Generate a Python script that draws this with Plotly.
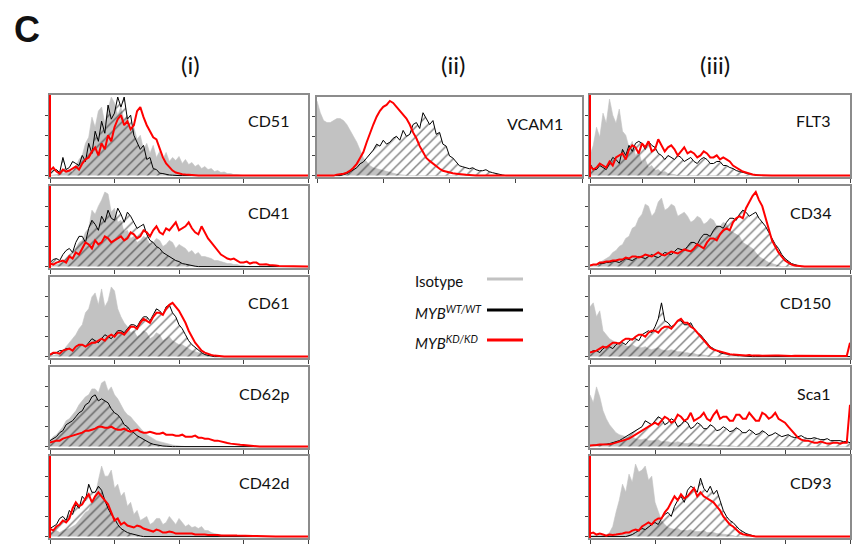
import plotly.graph_objects as go

# ---------------- data (log-decade bins 0..4, step 0.05) ----------------
BINS = [round(i * 0.05, 2) for i in range(81)]
DECADE_TICKS = [0, 1, 2, 3, 4]
FLT3_TICKS = [0, 0.8, 1.6, 2.4, 3.2, 4.0]
COUNT_TICKS = [0, 1, 2, 3]

CD51_ISO = [0, 0.02, 0.05, 0.1, 0.1, 0.2, 0.25, 0.15, 0.45, 0.8, 1.0, 1.6, 1.9, 2.9, 2.4, 3.2, 3.4, 2.6, 3.3, 3.9,
            3.6, 3.0, 3.4, 2.7, 3.0, 2.2, 2.4, 1.8, 2.0, 1.3, 1.6, 1.1, 1.5, 0.9, 1.2, 0.8, 1.15, 0.7, 0.9, 0.75,
            0.95, 0.6, 0.8, 0.55, 0.65, 0.45, 0.55, 0.35, 0.45, 0.3, 0.35, 0.2, 0.25, 0.15, 0.18, 0.1, 0.1, 0.05,
            0.05, 0.02]
CD51_WT = [0.1, 0.25, 0.3, 0.15, 0.9, 0.3, 0.4, 0.7, 0.6, 0.5, 1.0, 0.7, 1.6, 1.1, 2.2, 1.7, 2.7, 2.1, 3.5, 2.8,
           3.1, 3.9, 3.4, 3.9, 2.8, 3.0, 2.0, 1.6, 1.3, 1.5, 0.8, 0.9, 0.35, 0.3, 0.12, 0.1, 0.05, 0.03, 0.02]
CD51_KD = [0.25, 0.4, 0.2, 0.1, 0.3, 0.2, 0.25, 0.35, 0.45, 0.3, 0.6, 0.8, 0.9, 1.2, 1.4, 1.0, 1.6, 1.3, 2.0, 1.7,
           2.4, 2.8, 3.0, 2.5, 2.7, 2.3, 2.5, 3.2, 3.4, 2.9, 2.5, 2.2, 1.9, 1.8, 1.3, 0.9, 0.6, 0.4, 0.25, 0.15,
           0.1, 0.07, 0.05, 0.03, 0.02]

CD41_ISO = [0, 0.05, 0.1, 0.15, 0.2, 0.4, 0.6, 0.5, 0.9, 1.2, 1.3, 1.7, 1.9, 2.8, 2.6, 3.0, 3.3, 3.7, 3.6, 2.7,
            2.9, 2.2, 2.3, 1.7, 1.8, 1.4, 1.5, 1.2, 1.3, 1.5, 1.4, 1.1, 1.2, 1.4, 1.3, 1.0, 1.1, 1.3, 1.2, 0.9,
            1.1, 1.0, 0.9, 0.7, 0.8, 0.6, 0.7, 0.5, 0.5, 0.45, 0.4, 0.3, 0.3, 0.25, 0.2, 0.15, 0.15, 0.1, 0.1,
            0.05, 0.05]
CD41_WT = [0.2, 0.35, 0.4, 0.3, 0.6, 0.8, 0.9, 0.7, 1.2, 1.5, 1.5, 1.2, 1.9, 2.3, 2.1, 1.8, 2.5, 2.2, 2.8, 2.4,
           2.3, 2.9, 2.6, 2.2, 2.7, 2.5, 2.2, 1.9, 2.0, 2.1, 1.6, 1.3, 1.2, 1.0, 0.9, 0.7, 0.6, 0.5, 0.4, 0.3,
           0.25, 0.15, 0.12, 0.08, 0.05, 0.02]
CD41_KD = [0.15, 0.1, 0.2, 0.25, 0.3, 0.2, 0.5, 0.4, 0.7, 0.6, 0.9, 1.2, 1.1, 0.9, 1.3, 1.1, 1.2, 1.5, 1.4, 1.2,
           1.3, 1.4, 1.5, 1.3, 1.4, 1.7, 1.6, 1.4, 1.5, 1.8, 1.7, 1.5, 1.8, 2.0, 1.7, 1.6, 1.9, 1.8, 2.0, 2.2,
           1.8, 1.9, 2.0, 2.2, 1.9, 1.7, 1.6, 2.0, 1.7, 1.4, 1.2, 1.0, 0.8, 0.6, 0.5, 0.4, 0.35, 0.4, 0.3, 0.2,
           0.2, 0.25, 0.15, 0.2, 0.2, 0.1, 0.1, 0.12, 0.08, 0.05, 0.05, 0.03, 0.03]

CD61_ISO = [0, 0.05, 0.1, 0.2, 0.3, 0.5, 0.7, 0.9, 1.1, 1.4, 1.6, 2.2, 2.4, 3.0, 3.2, 2.6, 3.4, 2.5, 2.8, 3.5,
            3.3, 2.4, 2.0, 1.7, 1.5, 1.2, 1.3, 1.0, 1.1, 1.3, 1.2, 0.9, 1.0, 1.2, 1.1, 0.8, 0.9, 1.0, 0.8, 0.7,
            0.6, 0.6, 0.5, 0.4, 0.3, 0.25, 0.2, 0.15, 0.1, 0.08, 0.05]
CD61_WT = [0.1, 0.15, 0.2, 0.3, 0.3, 0.4, 0.4, 0.3, 0.5, 0.6, 0.6, 0.5, 0.7, 0.9, 0.8, 0.7, 0.9, 1.1, 1.0, 0.9,
           1.1, 1.3, 1.3, 1.2, 1.4, 1.6, 1.6, 1.5, 1.8, 2.0, 2.0, 1.8, 2.1, 2.4, 2.3, 2.1, 2.5, 2.6, 2.2, 2.0,
           1.6, 1.4, 1.1, 0.8, 0.6, 0.45, 0.3, 0.2, 0.1, 0.05, 0.03]
CD61_KD = [0.1, 0.2, 0.2, 0.15, 0.3, 0.35, 0.4, 0.3, 0.5, 0.6, 0.6, 0.5, 0.6, 0.7, 0.7, 0.8, 0.9, 0.8, 1.0, 1.1,
           1.0, 1.2, 1.2, 1.1, 1.3, 1.5, 1.5, 1.4, 1.7, 1.9, 1.8, 1.7, 2.0, 2.2, 2.2, 2.1, 2.4, 2.6, 2.7, 2.5,
           2.3, 2.0, 1.7, 1.3, 1.0, 0.7, 0.5, 0.3, 0.2, 0.12, 0.08, 0.05, 0.03]

CD62P_ISO = [0.3, 0.5, 0.6, 0.8, 1.0, 1.3, 1.4, 1.6, 1.8, 2.1, 2.3, 2.5, 2.6, 2.9, 2.9, 2.7, 3.2, 3.3, 2.8, 3.0,
             2.6, 2.4, 2.1, 1.8, 1.6, 1.5, 1.3, 1.1, 0.9, 0.75, 0.6, 0.5, 0.4, 0.3, 0.25, 0.2, 0.15, 0.1, 0.08,
             0.05, 0.03]
CD62P_WT = [0.3, 0.4, 0.5, 0.7, 0.8, 1.1, 1.2, 1.3, 1.5, 1.7, 1.8, 2.1, 2.2, 2.5, 2.6, 2.3, 2.4, 2.3, 2.2, 1.9,
            1.7, 1.6, 1.4, 1.1, 1.0, 0.8, 0.7, 0.55, 0.45, 0.35, 0.25, 0.18, 0.12, 0.08, 0.05, 0.03, 0.02]
CD62P_KD = [0.2, 0.25, 0.3, 0.3, 0.4, 0.45, 0.5, 0.55, 0.6, 0.65, 0.7, 0.8, 0.8, 0.85, 0.9, 1.0, 1.0, 0.95, 0.95,
            1.0, 0.9, 0.85, 0.85, 0.9, 0.8, 0.75, 0.8, 0.85, 0.75, 0.7, 0.7, 0.75, 0.7, 0.65, 0.65, 0.7, 0.6, 0.6,
            0.6, 0.55, 0.55, 0.6, 0.5, 0.5, 0.5, 0.55, 0.45, 0.45, 0.4, 0.4, 0.35, 0.3, 0.3, 0.25, 0.2, 0.18,
            0.15, 0.12, 0.1, 0.09, 0.08, 0.06, 0.05, 0.04, 0.03]

CD42D_ISO = [0.2, 0.25, 0.3, 0.2, 0.3, 0.35, 0.4, 0.5, 0.6, 0.8, 1.0, 1.2, 1.3, 1.7, 2.0, 2.8, 3.5, 3.0, 3.0, 3.3,
             2.4, 2.6, 2.0, 2.2, 1.5, 1.7, 1.1, 1.3, 0.8, 0.9, 1.0, 0.6, 0.7, 0.9, 0.9, 0.6, 0.7, 1.0, 0.8, 0.6,
             0.9, 0.7, 0.5, 0.6, 0.45, 0.5, 0.4, 0.5, 0.3, 0.3, 0.2, 0.15, 0.1, 0.08, 0.05, 0.03]
CD42D_WT = [0.4, 0.5, 0.6, 0.9, 1.0, 0.8, 1.3, 1.1, 1.6, 1.4, 2.0, 1.8, 2.6, 2.2, 2.2, 2.5, 2.3, 1.8, 1.4, 1.1,
            0.9, 0.6, 0.4, 0.3, 0.2, 0.15, 0.1, 0.05, 0.03]
CD42D_KD = [0.4, 0.3, 0.5, 0.6, 0.8, 0.7, 0.9, 1.4, 1.7, 1.5, 1.6, 1.9, 2.1, 1.7, 2.0, 2.2, 2.0, 1.8, 1.6, 1.2,
            0.8, 0.9, 0.6, 0.7, 0.55, 0.5, 0.45, 0.55, 0.5, 0.4, 0.35, 0.3, 0.25, 0.35, 0.3, 0.2, 0.2, 0.25, 0.22,
            0.15, 0.15, 0.12, 0.12, 0.15, 0.15, 0.1, 0.1, 0.12, 0.1, 0.08, 0.08, 0.1, 0.08, 0.05, 0.06, 0.05,
            0.05, 0.06, 0.05, 0.04, 0.04, 0.03, 0.03, 0.03, 0.03, 0.02, 0.02]

VCAM1_ISO = [3.8, 3.2, 2.8, 2.7, 2.7, 2.8, 2.9, 2.9, 2.8, 2.6, 2.3, 2.0, 1.7, 1.3, 0.9, 0.7, 0.5, 0.4, 0.35, 0.3,
             0.25, 0.2, 0.15, 0.1, 0.08, 0.05, 0.03]
VCAM1_WT = [0, 0, 0, 0, 0, 0, 0, 0, 0.05, 0.1, 0.2, 0.3, 0.4, 0.6, 0.7, 0.9, 1.1, 1.3, 1.6, 1.5, 1.8, 1.6, 1.7,
            1.9, 2.0, 1.8, 2.3, 2.0, 2.1, 2.6, 2.7, 2.4, 3.2, 2.9, 2.6, 2.8, 2.1, 2.2, 1.6, 1.5, 1.0, 0.9, 0.7,
            0.5, 0.45, 0.4, 0.35, 0.4, 0.3, 0.25, 0.25, 0.3, 0.2, 0.15, 0.1, 0.05, 0.03]
VCAM1_KD = [0, 0, 0, 0, 0, 0, 0.05, 0.07, 0.1, 0.15, 0.25, 0.4, 0.6, 0.9, 1.2, 1.7, 2.2, 2.6, 3.0, 3.3, 3.5, 3.6,
            3.8, 3.7, 3.5, 3.3, 3.1, 2.9, 2.6, 2.2, 1.9, 1.5, 1.2, 0.9, 0.75, 0.6, 0.45, 0.35, 0.25, 0.2, 0.15,
            0.12, 0.1, 0.07, 0.05, 0.04, 0.03]

FLT3_ISO = [1.0, 1.5, 2.4, 1.9, 3.1, 2.6, 3.8, 3.0, 2.6, 3.3, 2.2, 2.0, 1.4, 1.7, 1.0, 1.2, 0.6, 0.8, 0.4, 0.5,
            0.25, 0.3, 0.15, 0.2, 0.1, 0.08, 0.05]
FLT3_WT = [0.6, 0.3, 0.3, 0.5, 0.4, 0.3, 0.6, 0.9, 0.8, 0.6, 1.3, 1.0, 1.5, 1.2, 1.6, 1.7, 1.6, 1.3, 1.7, 1.5,
           1.4, 1.1, 1.0, 0.8, 1.0, 0.9, 0.8, 1.0, 0.9, 0.7, 0.8, 0.9, 0.7, 0.6, 0.8, 0.9, 0.8, 0.6, 0.6, 0.7,
           0.7, 0.5, 0.5, 0.4, 0.35, 0.25, 0.2, 0.15, 0.12, 0.08, 0.06, 0.03, 0.02]
FLT3_KD = [0.5, 0.3, 0.4, 0.6, 0.5, 0.4, 0.7, 0.5, 0.9, 1.0, 1.1, 0.8, 1.3, 1.5, 1.4, 1.1, 1.6, 1.4, 1.7, 1.2,
           1.3, 1.8, 1.5, 1.2, 1.4, 1.5, 1.3, 1.0, 1.2, 1.4, 1.1, 1.2, 1.1, 0.9, 1.0, 1.2, 1.1, 0.9, 0.9, 1.0,
           0.8, 0.9, 0.8, 0.7, 0.5, 0.4, 0.3, 0.2, 0.15, 0.08, 0.05, 0.03, 0.02]

CD34_ISO = [0, 0.05, 0.1, 0.2, 0.3, 0.4, 0.5, 0.7, 0.8, 1.0, 1.1, 1.4, 1.5, 1.9, 2.0, 2.4, 2.6, 3.1, 3.0, 2.5,
            2.7, 3.2, 3.4, 2.8, 2.9, 3.1, 3.0, 2.5, 2.6, 2.7, 2.5, 2.2, 2.3, 2.5, 2.4, 2.1, 2.2, 2.4, 2.3, 2.0,
            2.0, 2.2, 2.1, 1.8, 1.7, 1.6, 1.5, 1.2, 1.1, 1.0, 0.9, 0.7, 0.5, 0.4, 0.3, 0.2, 0.15, 0.1, 0.05]
CD34_WT = [0.05, 0.1, 0.1, 0.15, 0.15, 0.2, 0.2, 0.25, 0.25, 0.2, 0.3, 0.4, 0.35, 0.3, 0.4, 0.5, 0.45, 0.4, 0.5,
           0.6, 0.5, 0.45, 0.55, 0.7, 0.65, 0.6, 0.75, 0.9, 0.85, 0.8, 1.0, 1.2, 1.2, 1.1, 1.4, 1.6, 1.6, 1.5,
           1.8, 2.0, 2.0, 1.9, 2.2, 2.4, 2.4, 2.3, 2.6, 2.8, 2.7, 2.5, 2.6, 2.7, 2.4, 2.2, 2.0, 1.7, 1.4, 1.1,
           0.9, 0.6, 0.4, 0.25, 0.15, 0.1, 0.05]
CD34_KD = [0.05, 0.1, 0.1, 0.2, 0.2, 0.25, 0.25, 0.3, 0.3, 0.35, 0.35, 0.45, 0.4, 0.5, 0.5, 0.45, 0.5, 0.6, 0.55,
           0.5, 0.6, 0.7, 0.6, 0.55, 0.65, 0.75, 0.7, 0.65, 0.75, 0.85, 0.8, 0.75, 0.9, 1.1, 1.0, 0.9, 1.2, 1.4,
           1.4, 1.3, 1.6, 1.8, 1.9, 1.8, 2.2, 2.4, 2.5, 2.4, 2.9, 3.2, 3.5, 3.7, 3.3, 3.0, 2.4, 1.8, 1.3, 1.0,
           0.7, 0.5, 0.3, 0.2, 0.1, 0.05, 0.03]

CD150_ISO = [2.5, 2.7, 2.0, 2.3, 1.3, 1.1, 0.9, 0.8, 0.7, 0.6, 0.6, 0.55, 0.5, 0.6, 0.5, 0.45, 0.45, 0.5, 0.4,
             0.35, 0.4, 0.45, 0.35, 0.3, 0.3, 0.35, 0.3, 0.25, 0.25, 0.2, 0.2, 0.15, 0.15, 0.1, 0.1, 0.08, 0.05]
CD150_WT = [0.2, 0.3, 0.3, 0.2, 0.4, 0.5, 0.5, 0.4, 0.6, 0.7, 0.7, 0.6, 0.8, 0.9, 0.9, 0.8, 1.1, 1.2, 1.3, 1.2,
            1.5, 1.9, 2.7, 1.8, 1.7, 1.5, 1.6, 1.8, 1.8, 1.6, 1.6, 1.7, 1.4, 1.2, 1.1, 0.9, 0.7, 0.5, 0.4, 0.3,
            0.2, 0.15, 0.12, 0.1, 0.08, 0.06, 0.05, 0.03, 0.02]
CD150_KD = [0.2, 0.25, 0.3, 0.4, 0.5, 0.45, 0.6, 0.7, 0.7, 0.65, 0.8, 0.9, 0.9, 0.85, 1.0, 1.1, 1.1, 1.0, 1.2,
            1.3, 1.3, 1.2, 1.4, 1.5, 1.5, 1.4, 1.6, 1.8, 1.9, 1.7, 1.7, 1.5, 1.4, 1.2, 1.0, 0.8, 0.6, 0.45, 0.35,
            0.3, 0.25, 0.2, 0.15, 0.12, 0.1, 0.1, 0.08, 0.07, 0.06, 0.08, 0.05, 0.06, 0.05, 0.04, 0.05, 0.06,
            0.04, 0.05, 0.05, 0.04, 0.04, 0.05, 0.03, 0.04, 0.04, 0.03, 0.05, 0.03, 0.03, 0.04, 0.03, 0.03, 0.04,
            0.03, 0.03, 0.03, 0.03, 0.03, 0.03, 0.03]
CD150_KD_OFFSCALE = 0.7   # events piled in the top channel

SCA1_ISO = [2.6, 2.2, 3.0, 2.5, 1.8, 1.4, 1.1, 0.9, 0.7, 0.6, 0.55, 0.5, 0.45, 0.5, 0.4, 0.35, 0.35, 0.4, 0.3, 0.3,
            0.3, 0.35, 0.25, 0.25, 0.25, 0.2, 0.2, 0.25, 0.2, 0.15, 0.15, 0.2, 0.15, 0.12, 0.1, 0.12, 0.1, 0.08,
            0.08, 0.06, 0.05, 0.05, 0.05, 0.04, 0.03]
SCA1_WT = [0.05, 0.06, 0.08, 0.1, 0.1, 0.12, 0.15, 0.2, 0.25, 0.3, 0.4, 0.5, 0.6, 0.7, 0.8, 0.9, 1.0, 1.3, 1.2,
           1.1, 1.3, 1.5, 1.4, 1.1, 1.2, 1.4, 1.3, 1.0, 1.1, 1.3, 1.2, 0.9, 1.0, 1.2, 1.1, 0.9, 0.9, 1.1, 1.0,
           0.8, 0.85, 1.0, 0.9, 0.75, 0.8, 0.95, 0.85, 0.7, 0.7, 0.85, 0.75, 0.6, 0.65, 0.8, 0.7, 0.55, 0.6, 0.7,
           0.6, 0.5, 0.55, 0.6, 0.5, 0.45, 0.5, 0.55, 0.45, 0.4, 0.4, 0.45, 0.4, 0.35, 0.35, 0.4, 0.3, 0.3, 0.3,
           0.3, 0.25, 0.25, 0.2]
SCA1_KD = [0.05, 0.05, 0.08, 0.1, 0.1, 0.1, 0.12, 0.15, 0.2, 0.25, 0.3, 0.35, 0.4, 0.5, 0.6, 0.7, 0.8, 0.9, 1.0,
           1.1, 1.2, 1.1, 1.3, 1.5, 1.4, 1.2, 1.3, 1.6, 1.5, 1.3, 1.4, 1.7, 1.3, 1.4, 1.5, 1.7, 1.4, 1.3, 1.6,
           1.8, 1.4, 1.5, 1.5, 1.3, 1.3, 1.6, 1.6, 1.4, 1.4, 1.7, 1.5, 1.3, 1.3, 1.7, 1.6, 1.4, 1.5, 1.7, 1.4,
           1.3, 1.2, 1.0, 0.8, 0.6, 0.45, 0.35, 0.3, 0.3, 0.25, 0.2, 0.2, 0.25, 0.2, 0.15, 0.15, 0.2, 0.2, 0.15,
           0.2, 0.2]
SCA1_KD_OFFSCALE = 2.1    # events piled in the top channel

CD93_ISO = [0.05, 0.05, 0.05, 0.05, 0.05, 0.08, 0.2, 0.5, 1.2, 1.8, 2.6, 2.2, 3.1, 2.7, 3.6, 3.2, 3.3, 3.5, 2.8,
            3.0, 1.7, 1.2, 0.8, 0.6, 0.45, 0.4, 0.35, 0.4, 0.3, 0.3, 0.3, 0.35, 0.25, 0.25, 0.25, 0.3, 0.2, 0.2,
            0.2, 0.15, 0.15, 0.12, 0.1, 0.08, 0.05]
CD93_WT = [0, 0, 0, 0, 0, 0, 0, 0, 0, 0, 0, 0, 0.05, 0.1, 0.2, 0.3, 0.4, 0.35, 0.5, 0.6, 0.7, 0.6, 0.9, 1.1, 1.2,
           1.0, 1.5, 1.8, 2.0, 1.7, 2.3, 2.5, 2.4, 2.2, 2.9, 2.4, 2.2, 2.5, 2.1, 2.3, 1.8, 1.3, 1.0, 0.8, 0.7,
           0.5, 0.35, 0.25, 0.15, 0.1, 0.05]
CD93_KD = [0.15, 0.2, 0.1, 0.15, 0.1, 0.05, 0.1, 0.08, 0.1, 0.12, 0.15, 0.2, 0.2, 0.3, 0.35, 0.3, 0.5, 0.6, 0.7,
           0.6, 0.8, 0.9, 0.9, 1.2, 1.4, 1.7, 2.0, 1.8, 2.1, 1.9, 2.0, 2.2, 2.4, 2.0, 2.2, 2.0, 1.9, 1.8, 1.7,
           1.5, 1.3, 1.0, 0.8, 0.6, 0.5, 0.35, 0.2, 0.12, 0.08, 0.05, 0.03]

COLUMN_TITLES = ["(i)", "(ii)", "(iii)"]
LEGEND_NAMES = ["Isotype",
                "<i>MYB<sup>WT/WT</sup></i>",
                "<i>MYB<sup>KD/KD</sup></i>"]

# ---------------- layout geometry (pixels) ----------------
W, H = 855, 549
COLS = {"i": (50, 308), "ii": (317, 582), "iii": (590, 850)}
ROWS = [(95, 177), (186, 268), (277, 358), (367, 448), (456, 538)]

PANELS = [
    ("CD51", "i", ROWS[0], CD51_ISO, CD51_WT, CD51_KD, None, True, DECADE_TICKS),
    ("CD41", "i", ROWS[1], CD41_ISO, CD41_WT, CD41_KD, None, True, DECADE_TICKS),
    ("CD61", "i", ROWS[2], CD61_ISO, CD61_WT, CD61_KD, None, False, DECADE_TICKS),
    ("CD62p", "i", ROWS[3], CD62P_ISO, CD62P_WT, CD62P_KD, None, False, DECADE_TICKS),
    ("CD42d", "i", ROWS[4], CD42D_ISO, CD42D_WT, CD42D_KD, None, True, DECADE_TICKS),
    ("VCAM1", "ii", (97, 177), VCAM1_ISO, VCAM1_WT, VCAM1_KD, None, False, DECADE_TICKS),
    ("FLT3", "iii", ROWS[0], FLT3_ISO, FLT3_WT, FLT3_KD, None, True, FLT3_TICKS),
    ("CD34", "iii", ROWS[1], CD34_ISO, CD34_WT, CD34_KD, None, False, DECADE_TICKS),
    ("CD150", "iii", ROWS[2], CD150_ISO, CD150_WT, CD150_KD, CD150_KD_OFFSCALE, False, DECADE_TICKS),
    ("Sca1", "iii", ROWS[3], SCA1_ISO, SCA1_WT, SCA1_KD, SCA1_KD_OFFSCALE, False, DECADE_TICKS),
    ("CD93", "iii", ROWS[4], CD93_ISO, CD93_WT, CD93_KD, None, True, DECADE_TICKS),
]

GRAY = "#c2c2c2"
RED = "#ff0000"
FONT = "Lato"


def pad(v, offscale=None):
    n = len(BINS)
    assert len(v) <= (n - 1 if offscale is not None else n)
    out = list(v) + [0] * (n - len(v))
    if offscale is not None:
        out[-1] = offscale
    return out


def px(x):
    return x / W


def py(y):
    return 1 - y / H


fig = go.Figure()
layout = dict(width=W, height=H, margin=dict(l=0, r=0, t=0, b=0), paper_bgcolor="white",
              plot_bgcolor="white", showlegend=False)
shapes, annotations = [], []

for n, (name, col, (top, bot), iso, wt, kd, kd_off, red_edge, xticks) in enumerate(PANELS, start=1):
    left, right = COLS[col]
    xa, ya = f"x{n}", f"y{n}"
    fig.add_trace(go.Scatter(x=BINS, y=pad(iso), mode="lines", line=dict(color=GRAY, width=0.6),
                             fill="tozeroy", fillcolor=GRAY, xaxis=xa, yaxis=ya, hoverinfo="skip"))
    fig.add_trace(go.Scatter(x=BINS, y=pad(wt), mode="lines", line=dict(color="#000000", width=1),
                             fill="tozeroy", fillcolor="rgba(0,0,0,0)",
                             fillpattern=dict(shape="/", fgcolor="#000000", bgcolor="rgba(0,0,0,0)",
                                              size=7, solidity=0.2),
                             xaxis=xa, yaxis=ya, hoverinfo="skip"))
    fig.add_trace(go.Scatter(x=BINS, y=pad(kd, kd_off), mode="lines", line=dict(color=RED, width=2),
                             xaxis=xa, yaxis=ya, hoverinfo="skip"))
    key = "" if n == 1 else str(n)
    layout["xaxis" + key] = dict(domain=[px(left), px(right)], range=[0, 4], anchor=ya,
                                 showgrid=False, zeroline=False, showline=True, linecolor="#8c8c8c",
                                 linewidth=1.5, mirror=True, ticks="outside", tickvals=xticks,
                                 ticklen=4, tickwidth=1, tickcolor="#444", showticklabels=False,
                                 fixedrange=True)
    layout["yaxis" + key] = dict(domain=[py(bot), py(top)], range=[-0.07, 4], anchor=xa,
                                 showgrid=False, zeroline=False, showline=True, linecolor="#8c8c8c",
                                 linewidth=1.5, mirror=True, ticks="outside", tickvals=COUNT_TICKS,
                                 ticklen=3, tickwidth=1, tickcolor="#444", showticklabels=False,
                                 fixedrange=True)
    if red_edge:
        shapes.append(dict(type="line", xref="paper", yref="paper", x0=px(left), x1=px(left),
                           y0=py(bot), y1=py(top), line=dict(color=RED, width=2)))
    annotations.append(dict(text=name, xref="paper", yref="paper", x=px(right - 17), y=py(top + 26),
                            xanchor="right", yanchor="middle", showarrow=False,
                            font=dict(family=FONT, size=16, color="#111")))

# panel letter and column titles
annotations.append(dict(text="<b>C</b>", xref="paper", yref="paper", x=px(27), y=py(29),
                        xanchor="center", yanchor="middle", showarrow=False,
                        font=dict(family="Liberation Sans", size=36, color="#111")))
for title, cx in zip(COLUMN_TITLES, [190, 453, 715]):
    annotations.append(dict(text=title, xref="paper", yref="paper", x=px(cx), y=py(65),
                            xanchor="center", yanchor="middle", showarrow=False,
                            font=dict(family=FONT, size=24, color="#111")))

# legend
for label, color, ly, fs in zip(LEGEND_NAMES, [GRAY, "#000000", RED], [279, 310, 340], [15, 15, 15]):
    annotations.append(dict(text=label, xref="paper", yref="paper", x=px(413), y=py(ly + 2),
                            xanchor="left", yanchor="middle", showarrow=False,
                            font=dict(family=FONT, size=fs, color="#111")))
    shapes.append(dict(type="line", xref="paper", yref="paper", x0=px(487), x1=px(523),
                       y0=py(ly), y1=py(ly), line=dict(color=color, width=3)))

layout["shapes"] = shapes
layout["annotations"] = annotations
fig.update_layout(**layout)
fig.write_html("out.html")
